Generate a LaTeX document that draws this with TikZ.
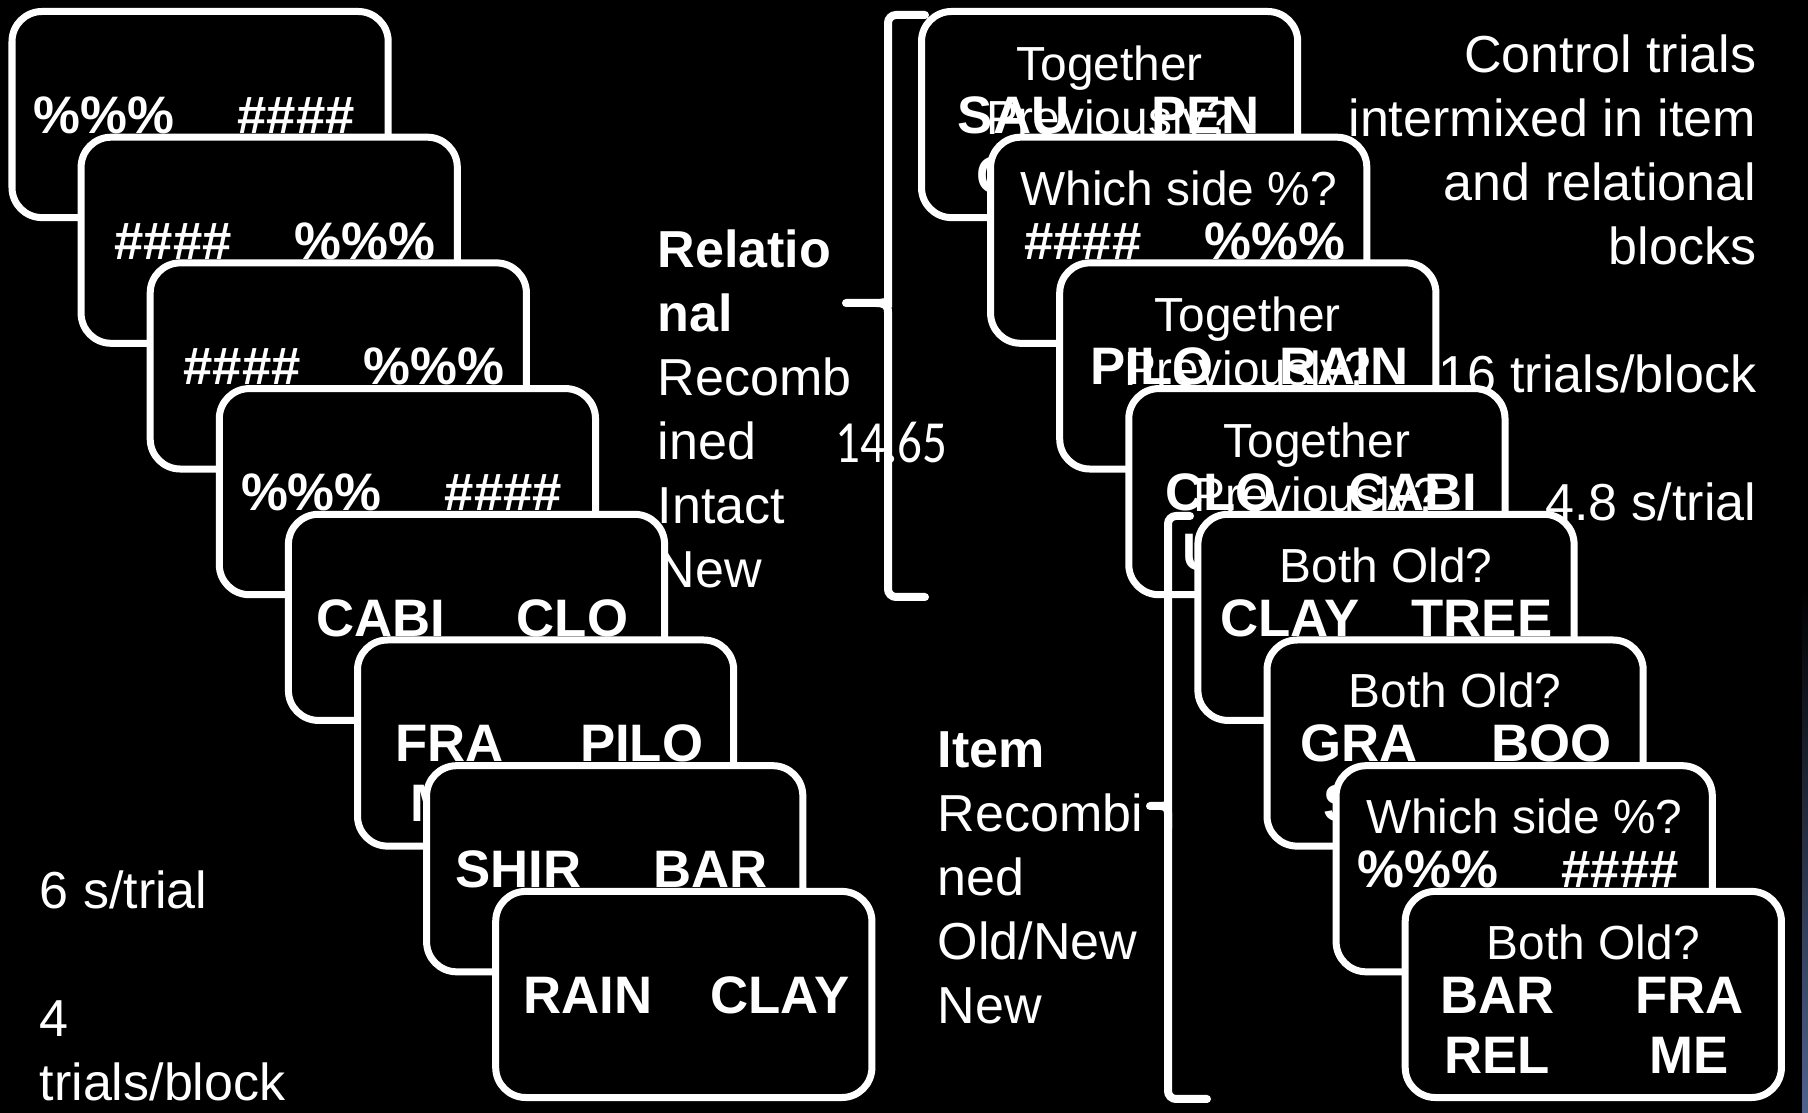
\documentclass[tikz,border=0pt]{standalone}
\usepackage{fontspec}
\setmainfont{Liberation Sans}
\newfontfamily\numfont{Carlito}
\tikzset{
  font={\fontsize{14.8pt}{18.2pt}\selectfont}}
\definecolor{edgeblue}{RGB}{78,98,140}

\begin{document}
\begin{tikzpicture}[x=0.01cm, y=-0.01cm]

        \tikzset{card/.style = {draw=white, fill=black, line width=0.07cm, rounded corners=0.3cm,
                                minimum width=3.76cm, minimum height=2.06cm,
                                inner sep=0pt, outer sep=0pt, anchor=north west},
                 stacked/.style = {card, shift={(69.1,125.7)}},
                 word/.style = {text=white, inner sep=0pt, anchor=base,
                                font={\fontsize{15pt}{17pt}\selectfont\bfseries}},
                 ask/.style = {text=white, inner sep=0pt, anchor=base, align=center,
                               font={\fontsize{13.6pt}{15.4pt}\selectfont}},
                 note/.style = {text=white, inner sep=0pt},
                 brace/.style = {draw=white, line width=0.08cm, line cap=round}}

        \fill[black] (0,0) rectangle (1808,1113);
        \useasboundingbox (0,0) rectangle (1808,1113);
        \shade[top color=black, bottom color=edgeblue] (1802,590) rectangle (1808,1113);

        % study trials
        \node[card] (l1) at (12,11.5) {};
        \node[word] at ([shift={(-96,122)}]l1.north) {\%\%\%};
        \node[word] at ([shift={(96,122)}]l1.north) {\#\#\#\#};
        \node[stacked] (l2) at (l1.north west) {};
        \node[word] at ([shift={(-96,122)}]l2.north) {\#\#\#\#};
        \node[word] at ([shift={(96,122)}]l2.north) {\%\%\%};
        \node[stacked] (l3) at (l2.north west) {};
        \node[word] at ([shift={(-96,122)}]l3.north) {\#\#\#\#};
        \node[word] at ([shift={(96,122)}]l3.north) {\%\%\%};
        \node[stacked] (l4) at (l3.north west) {};
        \node[word] at ([shift={(-96,122)}]l4.north) {\%\%\%};
        \node[word] at ([shift={(96,122)}]l4.north) {\#\#\#\#};
        \node[stacked] (l5) at (l4.north west) {};
        \node[word] at ([shift={(-96,122)}]l5.north) {CABI};
        \node[word] at ([shift={(96,122)}]l5.north) {CLO};
        \node[stacked] (l6) at (l5.north west) {};
        \node[word] at ([shift={(-96,122)}]l6.north) {FRA};
        \node[word] at ([shift={(96,122)}]l6.north) {PILO};
        \node[word] at ([shift={(-96,182)}]l6.north) {ME};
        \node[stacked] (l7) at (l6.north west) {};
        \node[word] at ([shift={(-96,122)}]l7.north) {SHIR};
        \node[word] at ([shift={(96,122)}]l7.north) {BAR};
        \node[stacked] (l8) at (l7.north west) {};
        \node[word] at ([shift={(-96,122)}]l8.north) {RAIN};
        \node[word] at ([shift={(96,122)}]l8.north) {CLAY};

        % test trials (two-line prompts sit on their last line)
        \node[card] (r1) at (921.5,11.5) {};
        \node[ask] at ([shift={(0,123)}]r1.north) {Together\\Previously?};
        \node[word] at ([shift={(-96,122)}]r1.north) {SAU};
        \node[word] at ([shift={(96,122)}]r1.north) {PEN};
        \node[word] at ([shift={(-96,182)}]r1.north) {CE};
        \node[stacked] (r2) at (r1.north west) {};
        \node[ask] at ([shift={(0,68)}]r2.north) {Which side \%?};
        \node[word] at ([shift={(-96,122)}]r2.north) {\#\#\#\#};
        \node[word] at ([shift={(96,122)}]r2.north) {\%\%\%};
        \node[stacked] (r3) at (r2.north west) {};
        \node[ask] at ([shift={(0,123)}]r3.north) {Together\\Previously?};
        \node[word] at ([shift={(-96,122)}]r3.north) {PILO};
        \node[word] at ([shift={(96,122)}]r3.north) {RAIN};
        \node[stacked] (r4) at (r3.north west) {};
        \node[ask] at ([shift={(0,123)}]r4.north) {Together\\Previously?};
        \node[word] at ([shift={(-96,122)}]r4.north) {CLO};
        \node[word] at ([shift={(96,122)}]r4.north) {CABI};
        \node[word] at ([shift={(-96,182)}]r4.north) {UD};
        \node[stacked] (r5) at (r4.north west) {};
        \node[ask] at ([shift={(0,68)}]r5.north) {Both Old?};
        \node[word] at ([shift={(-96,122)}]r5.north) {CLAY};
        \node[word] at ([shift={(96,122)}]r5.north) {TREE};
        \node[stacked] (r6) at (r5.north west) {};
        \node[ask] at ([shift={(0,68)}]r6.north) {Both Old?};
        \node[word] at ([shift={(-96,122)}]r6.north) {GRA};
        \node[word] at ([shift={(96,122)}]r6.north) {BOO};
        \node[word] at ([shift={(-96,182)}]r6.north) {SS};
        \node[stacked] (r7) at (r6.north west) {};
        \node[ask] at ([shift={(0,68)}]r7.north) {Which side \%?};
        \node[word] at ([shift={(-96,122)}]r7.north) {\%\%\%};
        \node[word] at ([shift={(96,122)}]r7.north) {\#\#\#\#};
        \node[stacked] (r8) at (r7.north west) {};
        \node[ask] at ([shift={(0,68)}]r8.north) {Both Old?};
        \node[word] at ([shift={(-96,122)}]r8.north) {BAR};
        \node[word] at ([shift={(96,122)}]r8.north) {FRA};
        \node[word] at ([shift={(-96,182)}]r8.north) {REL};
        \node[word] at ([shift={(96,182)}]r8.north) {ME};

        % labels, placed by their last line
        \node[note, anchor=base west, align=left] (pace) at (39,1101) {6 s/trial\\[18.2pt]4\\trials/block};
        \node[note, anchor=base west, align=left] (rel) at (657,588)
            {\textbf{Relatio}\\\textbf{nal}\\Recomb\\ined\\Intact\\New};
        \node[note, anchor=base west, align=left] (item) at (937,1024)
            {\textbf{Item}\\Recombi\\ned\\Old/New\\New};
        \node[note, anchor=base east, align=right] (ctrl) at (1757,521)
            {Control trials\\intermixed in item\\and relational\\blocks\\[18.2pt]16 trials/block\\[18.2pt]4.8 s/trial};
        \node[note, anchor=base west, font={\fontsize{17pt}{20pt}\selectfont}] (score) at (835,463)
            {\scalebox{0.82}[1]{\numfont 14.65}};

        % braces
        \draw[brace] (925,15) [rounded corners=0.08cm] -- (888,15) -- (888,294) [sharp corners]
            .. controls (888,301) and (884,303) .. (876,303) -- (846,303);
        \draw[brace] (876,303) .. controls (884,303) and (888,305) .. (888,312)
            [rounded corners=0.08cm] -- (888,597) -- (925,597);
        \draw[brace] (1190,516) [rounded corners=0.08cm] -- (1168,516) -- (1168,799) [sharp corners]
            .. controls (1168,804) and (1165,806) .. (1160,806) -- (1150,806);
        \draw[brace] (1160,806) .. controls (1165,806) and (1168,808) .. (1168,813)
            [rounded corners=0.08cm] -- (1168,1099) -- (1207,1099);

\end{tikzpicture}
\end{document}
